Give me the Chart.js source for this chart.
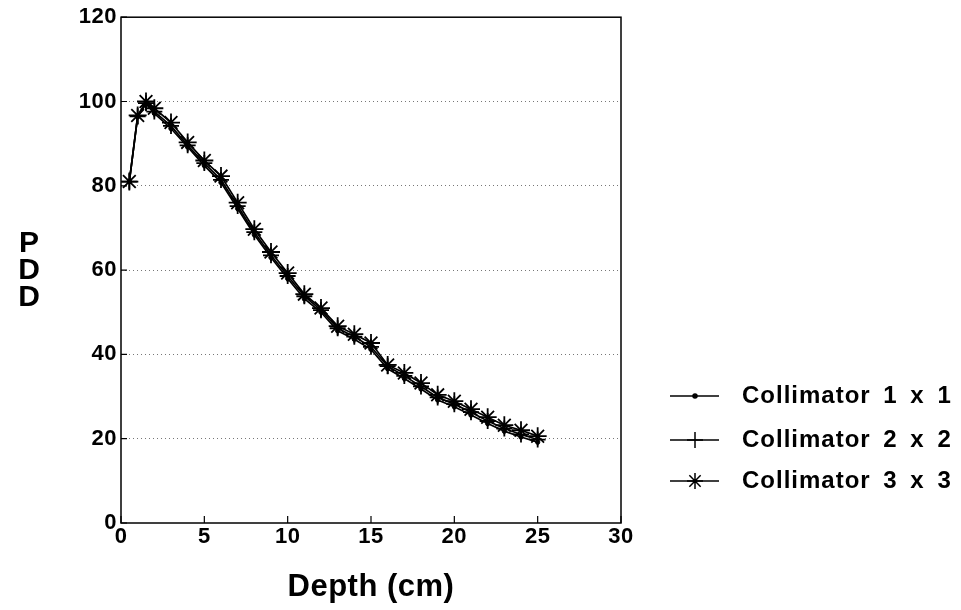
<!DOCTYPE html>
<html>
<head>
<meta charset="utf-8">
<script src="https://cdn.jsdelivr.net/npm/chart.js@4.4.0/dist/chart.umd.min.js"></script>
<style>
  html, body { margin: 0; padding: 0; background: #fff; }
  #wrap { width: 961px; height: 610px; }
</style>
</head>
<body>
<div id="wrap"><canvas id="pddChart" width="961" height="610"></canvas></div>
<script>
// depth points (cm)
const depth = [0.5, 1, 1.5, 2, 3, 4, 5, 6, 7, 8, 9, 10, 11, 12, 13, 14, 15, 16, 17, 18, 19, 20, 21, 22, 23, 24, 25];

// PDD, one array per collimator
const pdd1x1 = [81, 96.4, 99.4, 97.2, 93.6, 89.2, 84.8, 80.8, 74.6, 68.4, 63, 58, 53.2, 50, 45.6, 43.6, 41.2, 36.6, 34.3, 31.8, 29.2, 27.6, 25.6, 23.6, 21.8, 20.4, 19.2];
const pdd2x2 = [81, 96.5, 99.6, 97.6, 94.2, 89.6, 85.4, 81.4, 75.2, 69, 63.5, 58.6, 53.8, 50.5, 46.2, 44.2, 41.8, 37.2, 34.9, 32.4, 29.8, 28.2, 26.3, 24.2, 22.4, 21, 19.8];
const pdd3x3 = [81, 96.7, 100, 98.4, 95, 90.3, 86, 82.3, 76, 69.7, 64.3, 59.3, 54.3, 51, 46.7, 44.8, 42.7, 37.5, 35.6, 33.2, 30.4, 28.9, 27, 25.1, 23.2, 22, 20.6];

const seriesNames = ['Collimator 1 x 1', 'Collimator 2 x 2', 'Collimator 3 x 3'];
const xTicks = [0, 5, 10, 15, 20, 25, 30];
const yTicks = [0, 20, 40, 60, 80, 100, 120];

const FONT = '"Liberation Sans", Arial, Helvetica, sans-serif';

function toPoints(ys) {
    return depth.map((d, i) => ({ x: d, y: ys[i] }));
}

// box, inward ticks, y title and legend are drawn by hand
const frame = {
    id: 'frame',
    beforeDraw(chart) {
        // the old plot font is a bit wider than Liberation
        chart.ctx.letterSpacing = '0.5px';
    },
    afterDraw(chart) {
        const ctx = chart.ctx;
        const a = chart.chartArea;
        const xs = chart.scales.x, ys = chart.scales.y;
        ctx.save();
        ctx.strokeStyle = '#000';
        ctx.lineWidth = 1.5;
        ctx.strokeRect(a.left, a.top, a.right - a.left, a.bottom - a.top);

        ctx.lineWidth = 1.2;
        ctx.beginPath();
        xTicks.forEach(t => {
            const px = xs.getPixelForValue(t);
            ctx.moveTo(px, a.bottom);
            ctx.lineTo(px, a.bottom - 7);
        });
        yTicks.forEach(t => {
            const py = ys.getPixelForValue(t);
            ctx.moveTo(a.left, py);
            ctx.lineTo(a.left + 6, py);
        });
        ctx.stroke();

        // stacked y title
        ctx.fillStyle = '#000';
        ctx.letterSpacing = '0px';
        ctx.font = 'bold 30px ' + FONT;
        ctx.textAlign = 'center';
        ctx.textBaseline = 'middle';
        ['P', 'D', 'D'].forEach((ch, i) => ctx.fillText(ch, 29, 244 + i * 27));

        // legend
        const rowY = [396, 440, 481];
        chart.data.datasets.forEach((ds, i) => {
            const y = rowY[i];
            ctx.strokeStyle = '#000';
            ctx.lineWidth = 1.5;
            ctx.beginPath();
            ctx.moveTo(670, y);
            ctx.lineTo(719, y);
            ctx.stroke();
            Chart.helpers.drawPoint(ctx, {
                pointStyle: ds.pointStyle,
                radius: i === 0 ? 2 : 8,
                borderWidth: 1.2
            }, 695, y);
            ctx.font = 'bold 24px ' + FONT;
            ctx.letterSpacing = '1px';
            ctx.wordSpacing = '5px';
            ctx.textAlign = 'left';
            ctx.fillText(ds.label, 742, y);
        });
        ctx.restore();
    }
};

const ctx = document.getElementById('pddChart').getContext('2d');

const myChart = new Chart(ctx, {
    type: 'line',
    data: {
        datasets: [
            {
                label: seriesNames[0],
                data: toPoints(pdd1x1),
                borderColor: '#000',
                backgroundColor: '#000',
                borderWidth: 1.7,
                pointStyle: 'circle',
                pointRadius: 2.2,
                pointBorderWidth: 1
            },
            {
                label: seriesNames[1],
                data: toPoints(pdd2x2),
                borderColor: '#000',
                backgroundColor: '#000',
                borderWidth: 1.7,
                pointStyle: 'cross',
                pointRadius: 8,
                pointBorderWidth: 1.8
            },
            {
                label: seriesNames[2],
                data: toPoints(pdd3x3),
                borderColor: '#000',
                backgroundColor: '#000',
                borderWidth: 1.7,
                pointStyle: 'star',
                pointRadius: 9,
                pointBorderWidth: 1.8
            }
        ]
    },
    options: {
        responsive: false,
        animation: false,
        layout: { padding: { left: 0, top: 17, right: 340, bottom: 0 } },
        plugins: {
            legend: { display: false },
            tooltip: { enabled: false }
        },
        scales: {
            x: {
                type: 'linear',
                min: 0,
                max: 30,
                afterBuildTicks: s => { s.ticks = xTicks.map(v => ({ value: v })); },
                afterFit: s => { s.height = 87; },
                grid: { display: false, drawTicks: false },
                border: { display: false },
                ticks: {
                    color: '#000',
                    padding: 1,
                    maxRotation: 0,
                    font: { family: FONT, size: 22, weight: 'bold' }
                },
                title: {
                    display: true,
                    text: 'Depth (cm)',
                    color: '#000',
                    padding: { top: 0 },
                    font: { family: FONT, size: 31, weight: 'bold' }
                }
            },
            y: {
                min: 0,
                max: 120,
                afterBuildTicks: s => { s.ticks = yTicks.map(v => ({ value: v })); },
                afterFit: s => { s.width = 121; },
                grid: {
                    color: ctx => (ctx.tick.value === 0 || ctx.tick.value === 120) ? 'rgba(0,0,0,0)' : '#777',
                    lineWidth: 1,
                    drawTicks: false
                },
                border: { display: false, dash: [1, 3] },
                ticks: {
                    color: '#000',
                    padding: 4,
                    font: { family: FONT, size: 22, weight: 'bold' }
                }
            }
        }
    },
    plugins: [frame]
});
</script>
</body>
</html>
